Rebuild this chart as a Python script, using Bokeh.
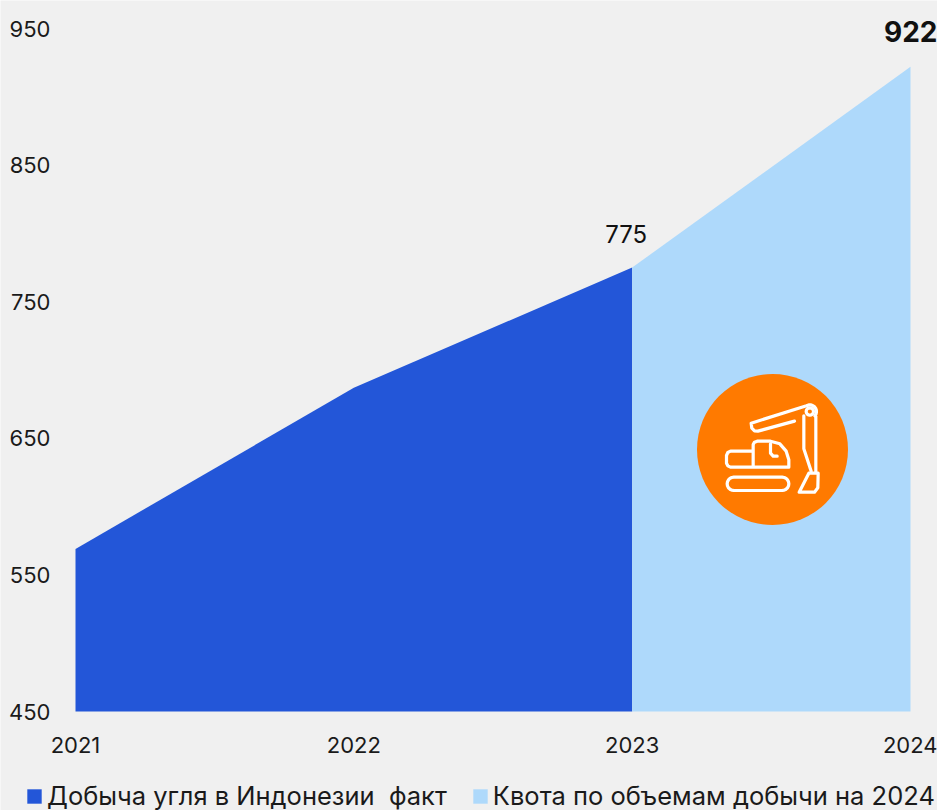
import math
from bokeh.plotting import figure
from bokeh.embed import file_html
from bokeh.resources import INLINE
from bokeh.models import FixedTicker, Legend, LegendItem, Label

FONT = "Inter"
BG = "#f0f0f0"
BLUE = "#2356d8"
LIGHT = "#aed9fb"
ORANGE = "#ff7a00"
INK = "#1a1a1a"

years_fact = [2021, 2022, 2023]
values_fact = [569, 687, 775]
years_quota = [2023, 2024]
values_quota = [775, 922]
y_ticks = [450, 550, 650, 750, 850, 950]
x_ticks = [2021, 2022, 2023, 2024]
fact_name = "Добыча угля в Индонезии  факт"
quota_name = "Квота по объемам добычи на 2024"

W, H = 937, 810
L, R, T, B = 75, 910, 28, 711   # where 2021/2024 and 950/450 fall in the picture

def dx(px):
    return 2021 + (px - L) / (R - L) * 3
def dy(py):
    return 450 + (B - py) / (B - T) * 500

p = figure(width=W, height=H, output_backend="svg", toolbar_location=None,
           x_range=(dx(0), dx(W)), y_range=(dy(H), dy(0)),
           min_border_left=0, min_border_right=0, min_border_top=0, min_border_bottom=0,
           background_fill_color=BG, border_fill_color=BG, outline_line_color=None)
p.grid.visible = False

p.yaxis.ticker = FixedTicker(ticks=y_ticks)
p.xaxis.ticker = FixedTicker(ticks=x_ticks)
for ax in (p.xaxis[0], p.yaxis[0]):
    ax.axis_line_color = None
    ax.major_tick_line_color = None
    ax.minor_tick_line_color = None
    ax.major_tick_out = 0
    ax.major_tick_in = 0
    ax.minor_tick_out = 0
    ax.minor_tick_in = 0
    ax.major_label_text_font = FONT
    ax.major_label_text_font_size = "22px"
    ax.major_label_text_color = INK
p.yaxis[0].major_label_standoff = -50
p.xaxis[0].major_label_standoff = -74

a1 = p.varea(x=years_fact, y1=[450] * len(years_fact), y2=values_fact, fill_color=BLUE)
a2 = p.varea(x=years_quota, y1=[450] * len(years_quota), y2=values_quota, fill_color=LIGHT)

p.scatter([dx(772)], [dy(449)], size=151, marker="circle", fill_color=ORANGE, line_color=None)

def arc(cx, cy, r, a0, a1, n=10):
    return [(cx + r * math.cos(math.radians(a0 + (a1 - a0) * i / n)),
             cy + r * math.sin(math.radians(a0 + (a1 - a0) * i / n))) for i in range(n + 1)]

def Z(pts):
    return [dx(720 + x / 3) for x, y in pts], [dy(400 + y / 3) for x, y in pts]

shapes = [
    [(222,62),(112,92),(102,91),(94,83),(92,68)] + [(258,16)] + arc(268,33,20,-100,40,8),
    arc(268,33,11,0,360,16),
    [(250,46),(250,145),(272,212)],
    [(286,48),(286,215)],
    [(236,275),(265,218),(293,218),(292,262),(282,275),(236,275)],
    [(95,152),(30,152),(22,156),(18,165),(18,188),(22,196),(30,200),(205,200),(205,178),(197,152),(178,130),(150,122),(110,122),(102,125),(98,132),(98,200)],
    [(150,130),(150,158),(158,167),(170,167)],
    [(40,230),(185,230)] + arc(185,250,20,-90,90) + [(40,270)] + arc(40,250,20,90,270),
]
for s in shapes:
    xs, ys = Z(s)
    p.line(xs, ys, line_color="white", line_width=3.2, line_join="round", line_cap="round")

p.add_layout(Label(x=2023, y=775, text="775", text_font=FONT, text_font_size="24px",
                   text_color="#111111", text_align="center", text_baseline="bottom",
                   x_offset=-6, y_offset=25))
p.add_layout(Label(x=2024, y=922, text="922", text_font=FONT, text_font_size="28px",
                   text_font_style="bold", text_color="#111111", text_align="right",
                   text_baseline="bottom", x_offset=27, y_offset=25))

leg = Legend(items=[LegendItem(label=fact_name, renderers=[a1]), LegendItem(label=quota_name, renderers=[a2])],
             orientation="horizontal", location=(25, -1),
             background_fill_alpha=0, border_line_width=0, border_line_color=None,
             glyph_width=18, glyph_height=18, label_standoff=4, spacing=24, padding=0, margin=0,
             label_text_font=FONT, label_text_font_size="25.5px", label_text_color=INK,
             label_height=18)
p.add_layout(leg)

open("out.html", "w").write(file_html(p, INLINE))
